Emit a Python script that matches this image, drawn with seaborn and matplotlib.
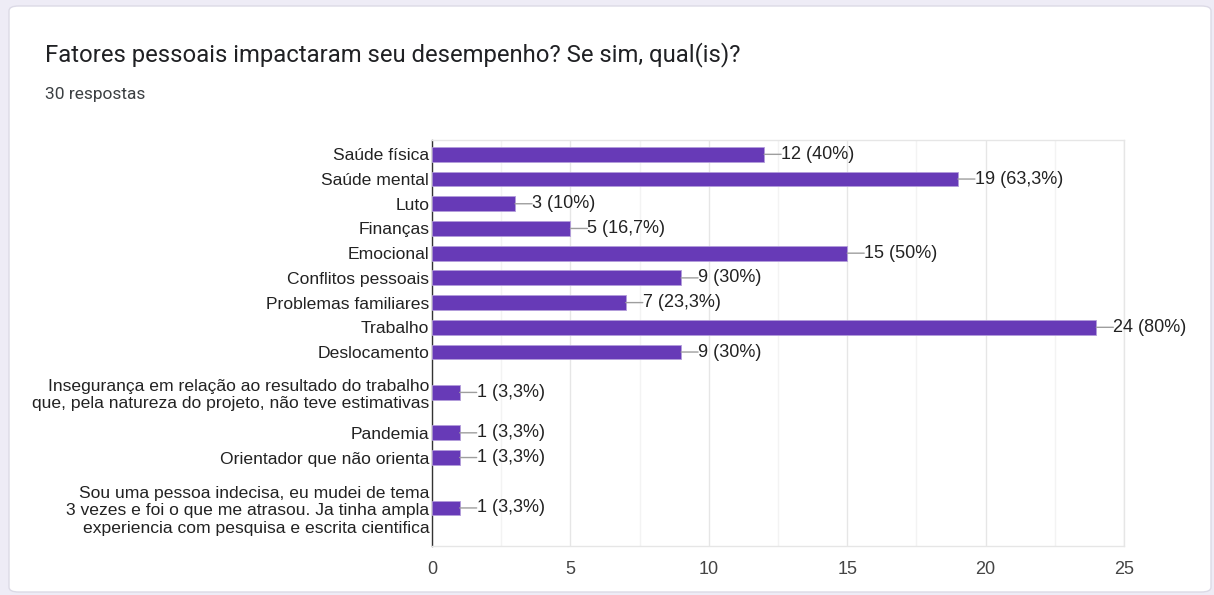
import matplotlib
matplotlib.use("Agg")
import matplotlib.pyplot as plt
import seaborn as sns
import pandas as pd
from matplotlib.patches import FancyBboxPatch

# data
title = "Fatores pessoais impactaram seu desempenho? Se sim, qual(is)?"
subtitle = "30 respostas"
categories = [
    "Saúde física",
    "Saúde mental",
    "Luto",
    "Finanças",
    "Emocional",
    "Conflitos pessoais",
    "Problemas familiares",
    "Trabalho",
    "Deslocamento",
    "Insegurança em relação ao resultado do trabalho\nque, pela natureza do projeto, não teve estimativas",
    "Pandemia",
    "Orientador que não orienta",
    "Sou uma pessoa indecisa, eu mudei de tema\n3 vezes e foi o que me atrasou. Ja tinha ampla\nexperiencia com pesquisa e escrita cientifica",
]
counts = [12, 19, 3, 5, 15, 9, 7, 24, 9, 1, 1, 1, 1]
pct_labels = ["40%", "63,3%", "10%", "16,7%", "50%", "30%", "23,3%",
              "80%", "30%", "3,3%", "3,3%", "3,3%", "3,3%"]
xticks = [0, 5, 10, 15, 20, 25]

# row height grows with the number of lines in the label
row_h = {1: 1.0, 2: 2.27, 3: 3.08}
top_pad = 0.08
centers, pos = [], top_pad
for c in categories:
    h = row_h[c.count("\n") + 1]
    centers.append(pos + h / 2)
    pos += h
total_h = pos

df = pd.DataFrame({"cat": categories, "count": counts, "y": centers})

sns.set_theme(style="white")
plt.rcParams["font.family"] = ["Liberation Sans", "DejaVu Sans"]

fig = plt.figure(figsize=(12.14, 5.95), dpi=100)
fig.patch.set_facecolor("#eeecf6")

# white card behind everything
card = FancyBboxPatch((9 / 1214, 3 / 595), 1202 / 1214, 586 / 595,
                      boxstyle="round,pad=0,rounding_size=0.008",
                      transform=fig.transFigure, facecolor="white",
                      edgecolor="#dcdae6", linewidth=1, zorder=-5)
fig.patches.append(card)

fig.text(45 / 1214, 1 - 55 / 595, title, fontsize=17.2, family="Roboto",
         color="#202124", va="center", ha="left")
fig.text(45 / 1214, 1 - 95 / 595, subtitle, fontsize=12.5, family="Roboto",
         color="#3c4043", va="center", ha="left")

ax = fig.add_axes([432 / 1214, 1 - 546 / 595, (1124 - 432) / 1214, (546 - 140) / 595])
ax.set_facecolor("none")

sns.barplot(data=df, x="count", y="y", orient="h", native_scale=True,
            width=0.6, color="#673ab7", saturation=1, edgecolor="#b39ddb",
            linewidth=0.6, ax=ax, zorder=3)

ax.set_xlim(0, 25)
ax.set_ylim(total_h, 0)
ax.set_xticks(xticks)
ax.set_xticks([x + 2.5 for x in xticks[:-1]], minor=True)
ax.set_xticklabels([str(t) for t in xticks], fontsize=13, color="#444444")
ax.set_yticks(centers)
ax.set_yticklabels(categories, fontsize=12.6, color="#222222", linespacing=1.2)
ax.set_xlabel("")
ax.set_ylabel("")
ax.tick_params(axis="both", which="both", length=0)
ax.tick_params(axis="y", pad=2)
ax.tick_params(axis="x", pad=11)

ax.grid(axis="x", which="major", color="#e6e6e6", linewidth=1, zorder=0)
ax.grid(axis="x", which="minor", color="#f3f3f3", linewidth=1, zorder=0)
for side in ["top", "bottom", "right"]:
    ax.spines[side].set_color("#e6e6e6")
    ax.spines[side].set_linewidth(1)
ax.spines["left"].set_color("#333333")
ax.spines["left"].set_linewidth(1)

for v, y, p in zip(counts, centers, pct_labels):
    ax.annotate(f"{v} ({p})", xy=(v, y), xytext=(17, 0),
                textcoords="offset pixels", va="center", ha="left",
                fontsize=13, color="#222222",
                arrowprops=dict(arrowstyle="-", color="#9e9e9e", lw=1,
                                shrinkA=0, shrinkB=0, patchA=None,
                                relpos=(0, 0.5)),
                annotation_clip=False, zorder=4)

fig.savefig("out.png", dpi=100, facecolor=fig.get_facecolor())
